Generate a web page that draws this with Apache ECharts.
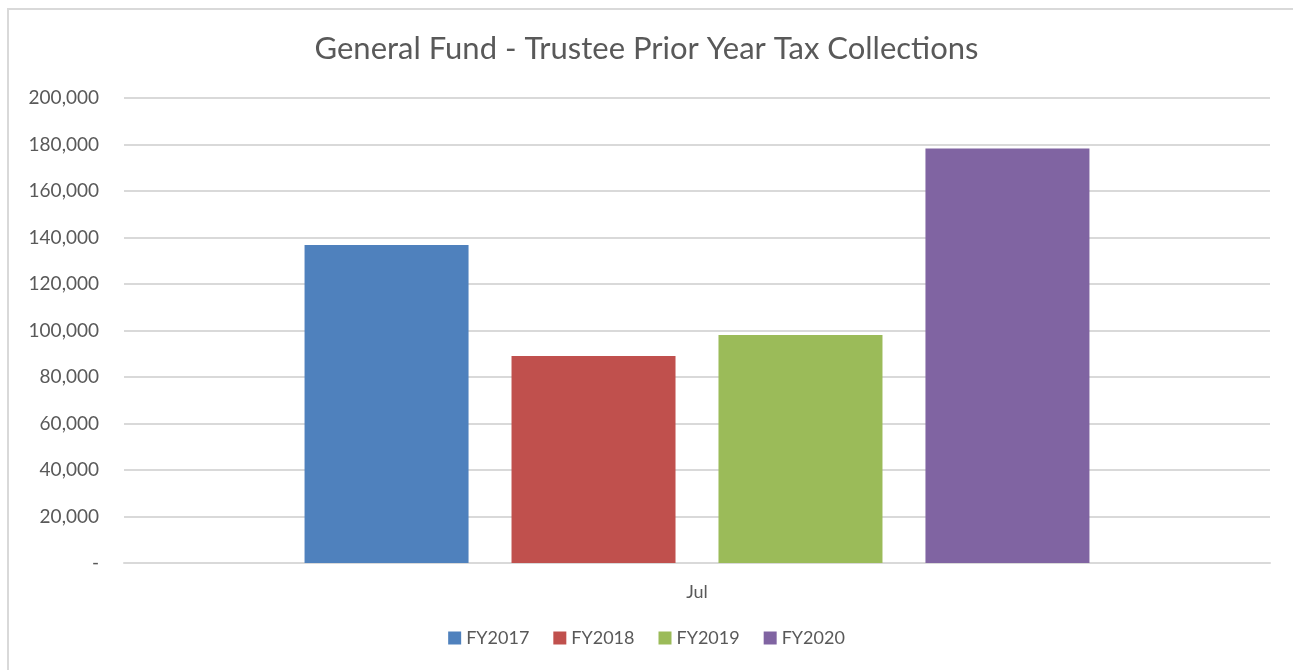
<!DOCTYPE html>
<html>
<head>
<meta charset="utf-8">
<script src="https://cdn.jsdelivr.net/npm/echarts@6/dist/echarts.min.js"></script>
<style>
  html, body { margin: 0; padding: 0; background: #fff; }
  #chart { width: 1293px; height: 670px; }
</style>
</head>
<body>
<div id="chart"></div>
<script>
var categories = ['Jul'];
var seriesNames = ['FY2017', 'FY2018', 'FY2019', 'FY2020'];
var fy2017 = [136800];
var fy2018 = [89000];
var fy2019 = [98100];
var fy2020 = [178300];
var colors = ['#4f81bd', '#c0504d', '#9bbb59', '#8064a2'];

var chart = echarts.init(document.getElementById('chart'));
var seriesData = [fy2017, fy2018, fy2019, fy2020];
var series = [];
for (var i = 0; i < seriesNames.length; i++) {
  series.push({
    name: seriesNames[i],
    type: 'bar',
    data: seriesData[i],
    barWidth: 164,
    barGap: '26.2%',
    itemStyle: { color: colors[i] }
  });
}

var option = {
  animation: false,
  textStyle: { fontFamily: 'Lato' },
  graphic: [{
    type: 'rect',
    shape: { x: 8, y: 9, width: 1300, height: 680 },
    style: { fill: 'none', stroke: '#d9d9d9', lineWidth: 2 },
    silent: true
  }],
  title: {
    text: 'General Fund - Trustee Prior Year Tax Collections',
    left: 'center',
    top: 28,
    textStyle: { fontSize: 31, fontWeight: 'normal', color: '#595959', fontFamily: 'Lato' }
  },
  legend: {
    bottom: 18,
    left: 'center',
    icon: 'rect',
    itemWidth: 13,
    itemHeight: 13,
    itemGap: 24,
    textStyle: { fontSize: 18, color: '#595959', fontFamily: 'Lato' },
    data: seriesNames
  },
  grid: { left: 124, right: 23, top: 98, bottom: 107 },
  xAxis: {
    type: 'category',
    data: categories,
    axisLine: { show: true, lineStyle: { color: '#d9d9d9', width: 2 } },
    axisTick: { show: false },
    axisLabel: { fontSize: 18, color: '#595959', margin: 20 }
  },
  yAxis: {
    type: 'value',
    min: 0,
    max: 200000,
    interval: 20000,
    axisLine: { show: false },
    axisTick: { show: false },
    splitLine: { lineStyle: { color: '#d9d9d9', width: 2 } },
    axisLabel: {
      fontSize: 19,
      color: '#595959',
      margin: 25,
      formatter: function (v) {
        return v === 0 ? '-' : v.toLocaleString('en-US');
      }
    }
  },
  series: series
};
chart.setOption(option);
</script>
</body>
</html>
